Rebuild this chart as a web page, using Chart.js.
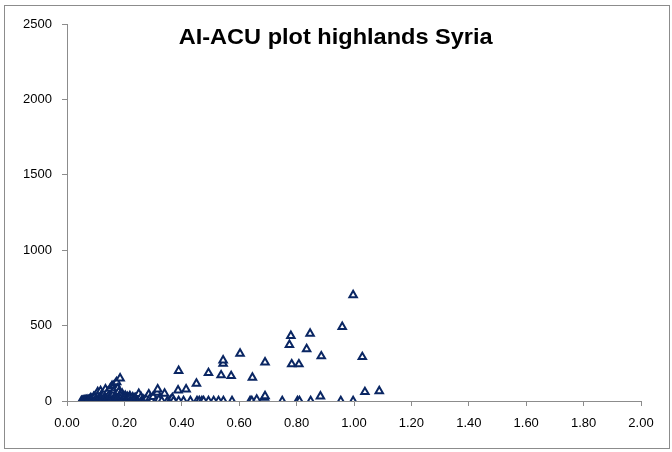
<!DOCTYPE html>
<html>
<head>
<meta charset="utf-8">
<script src="https://cdn.jsdelivr.net/npm/chart.js@4/dist/chart.umd.min.js"></script>
<style>
  html, body { margin: 0; padding: 0; background: #fff; }
  #wrap { position: relative; width: 672px; height: 452px; }
  #frame { position: absolute; left: 4px; top: 5px; width: 666px; height: 444px; border: 1px solid #8c8c8c; box-sizing: border-box; }
  #title { position: absolute; left: 0; width: 672px; top: 24px; text-align: center; }
  #title span { display: inline-block; font-family: "Liberation Sans", Arial, sans-serif; font-weight: bold;
                font-size: 22px; color: #000; transform: scaleX(1.07); transform-origin: center; white-space: nowrap; }
  canvas { position: absolute; left: 0; top: 0; }
</style>
</head>
<body>
<div id="wrap">
  <div id="frame"></div>
  <canvas id="c" width="672" height="452"></canvas>
  <div id="title"><span>AI-ACU plot highlands Syria</span></div>
</div>
<script>
// ACU (x) and AI (y) values
const acuValues = [
  // dense low cluster
  0.050,0.052,0.055,0.057,0.060,0.062,0.063,0.065,0.066,0.068,0.070,0.071,0.072,0.074,0.075,0.077,0.078,0.080,
  0.081,0.082,0.083,0.084,0.085,0.087,0.088,0.090,0.091,0.092,0.093,0.094,0.095,0.097,0.098,0.099,0.100,0.101,
  0.102,0.104,0.105,0.106,0.107,0.108,0.109,0.110,0.111,0.112,0.113,0.115,0.116,0.117,0.118,0.119,0.120,0.122,
  0.123,0.124,0.125,0.126,0.127,0.128,0.129,0.130,0.132,0.133,0.134,0.135,0.136,0.137,0.138,0.139,0.140,0.141,
  0.142,0.143,0.144,0.145,0.146,0.147,0.148,0.149,0.150,0.151,0.152,0.153,0.154,0.155,0.156,0.157,0.158,0.159,
  0.160,0.161,0.162,0.163,0.164,0.165,0.166,0.167,0.168,0.169,0.170,0.171,0.172,0.173,0.174,0.175,0.176,0.177,
  0.178,0.179,0.180,0.181,0.182,0.184,0.185,0.187,0.188,0.189,0.190,0.191,0.192,0.193,0.194,0.195,0.197,0.198,
  0.199,0.200,0.202,0.203,0.204,0.205,0.206,0.208,0.209,0.210,0.211,0.212,0.213,0.215,0.216,0.218,0.219,0.220,
  0.221,0.223,0.225,0.226,0.228,0.229,0.230,0.232,0.233,0.235,0.236,0.238,0.239,0.240,0.242,0.244,0.246,0.248,
  0.250,0.252,0.255,0.257,0.258,0.260,0.262,0.265,0.268,0.270,0.272,0.275,0.278,0.278,0.285,0.290,0.295,0.300,
  // middle and upper points
  0.310,0.314,0.316,0.320,0.330,0.340,0.350,0.360,0.367,0.371,0.387,0.389,0.389,0.406,0.415,0.430,0.451,0.453,
  0.461,0.470,0.476,0.493,0.493,0.511,0.528,0.537,0.544,0.544,0.545,0.572,0.575,0.603,0.638,0.644,0.646,0.661,
  0.688,0.690,0.690,0.750,0.775,0.780,0.783,0.803,0.808,0.810,0.835,0.847,0.849,0.883,0.886,0.954,0.959,0.997,
  0.997,1.029,1.038,1.088
];
const aiValues = [
  0,0,2,3,0,5,1,0,6,3,8,2,0,0,4,7,10,0,
  3,6,20,0,12,2,9,0,4,15,28,1,5,20,11,35,0,3,
  8,25,0,26,60,3,7,18,42,0,14,30,2,66,32,5,10,40,
  0,25,2,9,22,38,17,50,5,1,78,30,15,6,35,48,0,12,
  60,22,8,0,28,36,45,4,26,84,20,12,40,2,8,100,32,55,
  1,30,46,100,14,70,24,5,3,115,36,40,9,126,30,18,0,85,
  44,22,60,26,6,38,150,2,30,20,10,12,50,33,4,0,25,0,
  18,5,16,35,27,0,3,15,7,28,20,0,3,20,10,5,32,22,
  1,0,8,12,0,24,5,11,0,3,18,0,20,2,6,8,2,0,
  48,0,5,9,26,0,2,10,6,0,1,3,0,18,44,20,0,28,
  0,55,78,10,0,49,0,5,20,0,71,0,200,0,78,0,115,0,
  0,0,0,0,186,0,0,171,248,270,0,166,0,315,0,0,155,10,
  22,33,257,0,372,432,244,0,244,0,344,447,0,31,297,0,492,0,
  703,292,60,66
];
const xTicks = [0,0.2,0.4,0.6,0.8,1.0,1.2,1.4,1.6,1.8,2.0];
const yTicks = [0,500,1000,1500,2000,2500];

const points = acuValues.map((x, i) => ({ x: x, y: aiValues[i] }));
const axisColor = '#8c8c8c';
const tickFont = { family: '"Liberation Sans", Arial, sans-serif', size: 13 };

new Chart(document.getElementById('c'), {
  type: 'scatter',
  data: {
    datasets: [{
      data: points,
      pointStyle: 'triangle',
      pointRadius: 4.3,
      pointBorderWidth: 2,
      pointBorderColor: '#0a2663',
      pointBackgroundColor: '#ffffff',
      showLine: false
    }]
  },
  options: {
    responsive: false,
    animation: false,
    devicePixelRatio: 1,
    layout: { padding: { top: 24, right: 31, bottom: 21, left: 0 } },
    plugins: { legend: { display: false }, tooltip: { enabled: false }, title: { display: false } },
    scales: {
      x: {
        type: 'linear', min: 0, max: 2,
        afterBuildTicks: s => { s.ticks = xTicks.map(v => ({ value: v })); },
        afterFit: s => { s.height = 30; },
        ticks: { color: '#000', font: tickFont, padding: 10, maxRotation: 0, callback: v => Number(v).toFixed(2) },
        grid: { drawOnChartArea: false, drawTicks: true, tickLength: 5, color: axisColor },
        border: { display: true, color: axisColor, width: 1 }
      },
      y: {
        type: 'linear', min: 0, max: 2500,
        afterBuildTicks: s => { s.ticks = yTicks.map(v => ({ value: v })); },
        afterFit: s => { s.width = 67; },
        ticks: { color: '#000', font: tickFont, padding: 10, callback: v => String(v) },
        grid: { drawOnChartArea: false, drawTicks: true, tickLength: 5, color: axisColor },
        border: { display: true, color: axisColor, width: 1 }
      }
    }
  }
});
</script>
</body>
</html>
